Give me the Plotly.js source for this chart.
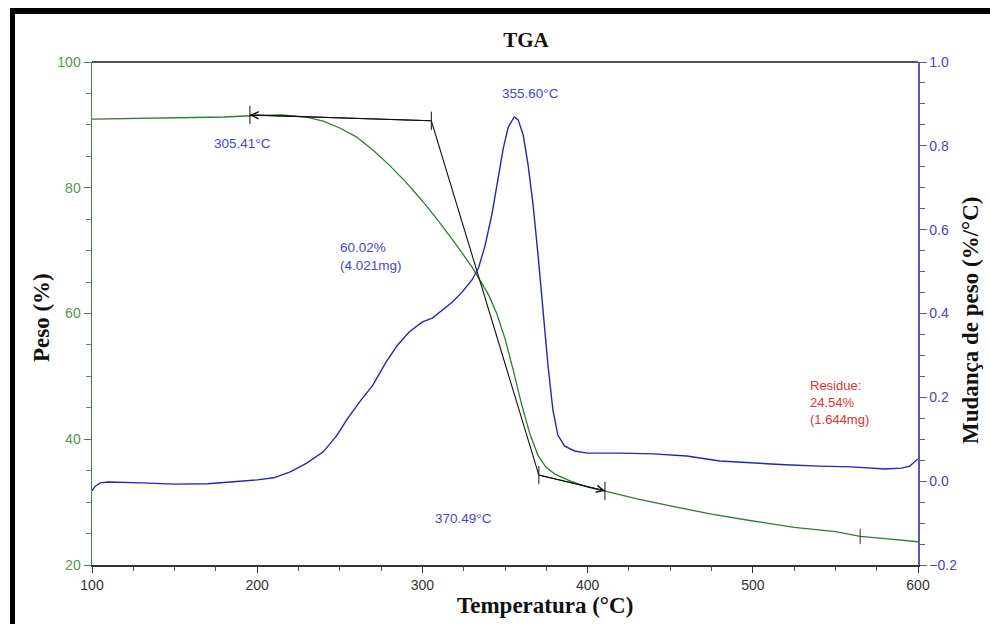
<!DOCTYPE html>
<html>
<head>
<meta charset="utf-8">
<script src="https://cdn.plot.ly/plotly-3.0.1.min.js"></script>
<style>
  html, body { margin: 0; padding: 0; background: #ffffff; }
  #chart { width: 990px; height: 624px; }
</style>
</head>
<body>
<div id="chart"></div>
<script>
// Thermogravimetric curve: temperature (°C) vs residual weight (%)
const weightTemp = [100, 150, 180, 200, 215, 230, 240, 250, 260, 270, 280, 290, 300, 310, 320, 330,
  340, 345, 350, 355, 360, 365, 370, 375, 380, 390, 400, 410, 430, 450, 475, 500, 525, 550, 565, 580, 600];
const weightPct = [90.93, 91.1, 91.25, 91.5, 91.57, 91.25, 90.6, 89.5, 88.1, 86.0, 83.6, 80.9, 77.9, 74.6, 71.1, 67.4,
  63.0, 60.0, 56.0, 51.0, 45.6, 40.9, 37.4, 35.5, 34.5, 33.3, 32.4, 31.8, 30.5, 29.4, 28.1, 27.0, 26.0, 25.3, 24.54, 24.2, 23.7];

// Derivative curve: weight change rate (%/°C)
const derivTemp = [100, 102, 105, 110, 130, 150, 170, 200, 210, 220, 230, 240, 248, 255, 262, 270, 278, 285, 292,
  300, 306, 312, 318, 324, 330, 334, 338, 342, 346, 349, 352, 355.6, 358, 361, 364, 367, 370, 373, 376, 379,
  382, 386, 392, 400, 420, 440, 460, 480, 500, 520, 540, 560, 580, 590, 595, 600];
const derivRate = [-0.023, -0.012, -0.004, -0.002, -0.004, -0.007, -0.006, 0.003, 0.008, 0.022, 0.043, 0.070, 0.108,
  0.151, 0.189, 0.229, 0.284, 0.325, 0.356, 0.380, 0.389, 0.408, 0.427, 0.451, 0.480, 0.509, 0.563, 0.635, 0.723,
  0.795, 0.845, 0.869, 0.862, 0.826, 0.754, 0.659, 0.540, 0.408, 0.277, 0.170, 0.110, 0.084, 0.072, 0.067, 0.067,
  0.065, 0.060, 0.048, 0.043, 0.039, 0.036, 0.034, 0.029, 0.031, 0.036, 0.053];

// Onset / endset tangent construction
const tangentTemp = [195.6, 305.41, 370.49, 410.5];
const tangentPct = [91.57, 90.65, 34.3, 31.8];

// Residue marker
const residueTemp = [565];
const residuePct = [24.54];

// Annotation texts
const peakLabel = '355.60°C';
const onsetLabel = '305.41°C';
const endsetLabel = '370.49°C';
const lossLabel = '60.02%<br>(4.021mg)';
const residueLabel = 'Residue:<br>24.54%<br>(1.644mg)';

const sans = 'Liberation Sans, Arial, sans-serif';
const serif = 'Liberation Serif, Times New Roman, serif';
const narrow = 'Liberation Sans Narrow, Liberation Sans, Arial, sans-serif';

// pixel helpers for paper-space frame
const px2x = p => (p - 92) / 826;
const py2y = p => (565 - p) / 503;

const traces = [
  {
    x: weightTemp, y: weightPct, type: 'scatter', mode: 'lines',
    line: { color: '#2e7d2e', width: 1.3 }, yaxis: 'y', hoverinfo: 'skip'
  },
  {
    x: derivTemp, y: derivRate, type: 'scatter', mode: 'lines',
    line: { color: '#2626b4', width: 1.4 }, yaxis: 'y2', hoverinfo: 'skip'
  },
  {
    x: tangentTemp, y: tangentPct, type: 'scatter', mode: 'lines+markers',
    line: { color: '#111111', width: 1.1 },
    marker: { symbol: 'line-ns', size: 13, line: { color: '#111111', width: 1 } },
    yaxis: 'y', hoverinfo: 'skip'
  },
  {
    x: residueTemp, y: residuePct, type: 'scatter', mode: 'markers',
    marker: { symbol: 'line-ns', size: 11, line: { color: '#333333', width: 1 } },
    yaxis: 'y', hoverinfo: 'skip'
  }
];

const blueText = { family: sans, size: 13.5, color: '#4646cc' };

const layout = {
  width: 990, height: 624,
  margin: { l: 92, r: 72, t: 62, b: 59 },
  paper_bgcolor: '#ffffff', plot_bgcolor: '#ffffff',
  showlegend: false,
  title: {
    text: '<b>TGA</b>', font: { family: serif, size: 21, color: '#111111' },
    xref: 'paper', x: px2x(526), xanchor: 'center',
    yref: 'container', y: 1 - 40 / 624, yanchor: 'middle'
  },
  xaxis: {
    range: [100, 600], tickvals: [100, 200, 300, 400, 500, 600],
    ticks: 'outside', ticklen: 6, tickcolor: '#333333', tickwidth: 1,
    minor: { dtick: 25, tick0: 100, ticks: 'outside', ticklen: 4, tickcolor: '#555555' },
    showline: true, linecolor: '#333333', linewidth: 2,
    showgrid: false, zeroline: false,
    tickfont: { family: narrow, size: 14, color: '#333333' }
  },
  yaxis: {
    range: [20, 100], tickvals: [20, 40, 60, 80, 100],
    ticks: 'outside', ticklen: 7, tickcolor: '#666666',
    minor: { dtick: 5, tick0: 20, ticks: 'outside', ticklen: 5, tickcolor: '#777777' },
    showline: true, linecolor: '#3c8c3c', linewidth: 1.5,
    showgrid: false, zeroline: false,
    tickfont: { family: narrow, size: 14, color: '#4f9a4f' }
  },
  yaxis2: {
    overlaying: 'y', side: 'right', anchor: 'x',
    range: [-0.2, 1.0], tickvals: [-0.2, 0, 0.2, 0.4, 0.6, 0.8, 1.0], tickformat: '.1f',
    ticks: 'outside', ticklen: 7, tickcolor: '#5a5aa8',
    minor: { dtick: 0.05, tick0: -0.2, ticks: 'outside', ticklen: 5, tickcolor: '#5a5aa8' },
    showline: true, linecolor: '#5a5aa8', linewidth: 1.5,
    showgrid: false, zeroline: false,
    tickfont: { family: narrow, size: 14, color: '#4444cc' }
  },
  shapes: [
    // top border of plot area
    { type: 'line', xref: 'paper', yref: 'paper', x0: 0, x1: 1, y0: 1, y1: 1,
      line: { color: '#555555', width: 2 } },
    // outer black frame (top and left)
    { type: 'line', xref: 'paper', yref: 'paper', x0: px2x(10), x1: px2x(992), y0: py2y(11), y1: py2y(11),
      line: { color: '#000000', width: 6 } },
    { type: 'line', xref: 'paper', yref: 'paper', x0: px2x(12.5), x1: px2x(12.5), y0: py2y(8), y1: py2y(630),
      line: { color: '#000000', width: 5 } }
  ],
  annotations: [
    // open arrowheads on tangent lines
    { x: tangentTemp[0], y: tangentPct[0], ax: tangentTemp[1], ay: tangentPct[1], xref: 'x', yref: 'y',
      axref: 'x', ayref: 'y', showarrow: true, arrowhead: 5, arrowsize: 1.4, arrowwidth: 1,
      arrowcolor: '#111111', text: '' },
    { x: tangentTemp[3], y: tangentPct[3], ax: tangentTemp[2], ay: tangentPct[2], xref: 'x', yref: 'y',
      axref: 'x', ayref: 'y', showarrow: true, arrowhead: 5, arrowsize: 1.4, arrowwidth: 1,
      arrowcolor: '#111111', text: '' },
    // value labels
    { text: onsetLabel, x: 190.8, y: 87.1, xref: 'x', yref: 'y', showarrow: false, font: blueText },
    { text: peakLabel, x: 365.7, y: 95.07, xref: 'x', yref: 'y', showarrow: false, font: blueText },
    { text: lossLabel, x: 248.9, y: 69.0, xref: 'x', yref: 'y', showarrow: false, xanchor: 'left',
      align: 'left', font: blueText },
    { text: endsetLabel, x: 324.6, y: 27.47, xref: 'x', yref: 'y', showarrow: false, font: blueText },
    { text: residueLabel, x: 533.4, y: 45.77, xref: 'x', yref: 'y', showarrow: false, xanchor: 'left',
      align: 'left', font: { family: sans, size: 13, color: '#e03232' } },
    // axis titles
    { text: '<b>Temperatura (°C)</b>', xref: 'paper', yref: 'paper', x: px2x(545), y: py2y(605),
      showarrow: false, xanchor: 'center', yanchor: 'middle',
      font: { family: serif, size: 23, color: '#111111' } },
    { text: '<b>Peso (%)</b>', xref: 'paper', yref: 'paper', x: px2x(41), y: py2y(318),
      showarrow: false, textangle: -90, xanchor: 'center', yanchor: 'middle',
      font: { family: serif, size: 23, color: '#111111' } },
    { text: '<b>Mudança de peso (%/°C)</b>', xref: 'paper', yref: 'paper', x: px2x(970), y: py2y(320),
      showarrow: false, textangle: -90, xanchor: 'center', yanchor: 'middle',
      font: { family: serif, size: 23, color: '#111111' } }
  ]
};

Plotly.newPlot('chart', traces, layout, { displayModeBar: false, staticPlot: true });
</script>
</body>
</html>
